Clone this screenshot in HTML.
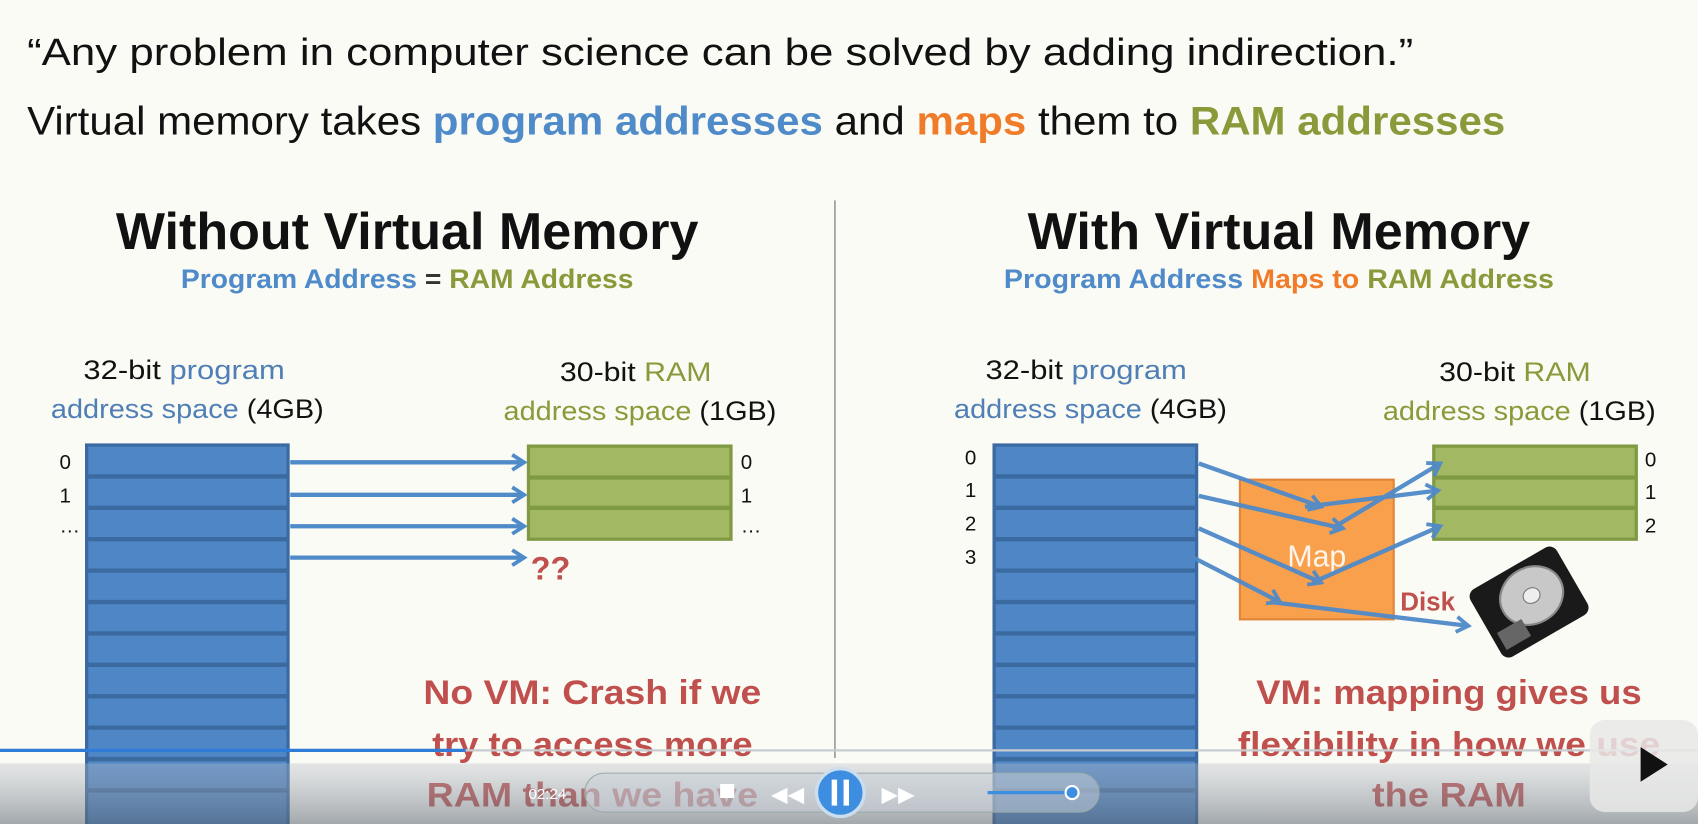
<!DOCTYPE html>
<html><head><meta charset="utf-8"><style>
html,body{margin:0;padding:0;background:#fbfbf6;}
svg{display:block}
text{font-family:"Liberation Sans",sans-serif}
</style></head><body>
<svg width="1698" height="824" viewBox="0 0 1568 761" preserveAspectRatio="none" xmlns="http://www.w3.org/2000/svg">
<defs>
<marker id="ah" viewBox="-4 -4 18 20" refX="10" refY="6" markerWidth="18" markerHeight="20" orient="auto" markerUnits="userSpaceOnUse" style="overflow:visible">
<path d="M-1,-1 L10,6 L-1,13" fill="none" stroke="#4f8ac9" stroke-width="3.5"/>
</marker>
<linearGradient id="cb" x1="0" y1="0" x2="0" y2="1"><stop offset="0" stop-color="#b8bec6" stop-opacity="0.35"/><stop offset="1" stop-color="#5a6470" stop-opacity="0.55"/></linearGradient>
</defs>
<rect width="1568" height="761" fill="#fbfbf6"/>
<text x="25" y="60" font-size="35" fill="#111" textLength="1280" lengthAdjust="spacingAndGlyphs">“Any problem in computer science can be solved by adding indirection.”</text>
<text x="25" y="124" font-size="37" fill="#111" textLength="1365" lengthAdjust="spacingAndGlyphs">Virtual memory takes <tspan fill="#4f8ac9" font-weight="bold">program addresses</tspan> and <tspan fill="#f07b28" font-weight="bold">maps</tspan> them to <tspan fill="#8a9a3a" font-weight="bold">RAM addresses</tspan></text>
<line x1="771" y1="185" x2="771" y2="700" stroke="#999" stroke-width="1.5"/>
<text x="376" y="230" font-size="48" font-weight="bold" text-anchor="middle" fill="#111" textLength="538" lengthAdjust="spacingAndGlyphs">Without Virtual Memory</text>
<text x="1181" y="230" font-size="48" font-weight="bold" text-anchor="middle" fill="#111" textLength="464" lengthAdjust="spacingAndGlyphs">With Virtual Memory</text>
<text x="376" y="266" font-size="25" font-weight="bold" text-anchor="middle" textLength="418" lengthAdjust="spacingAndGlyphs"><tspan fill="#4f8ac9">Program Address</tspan><tspan fill="#333"> = </tspan><tspan fill="#8a9a3a">RAM Address</tspan></text>
<text x="1181" y="266" font-size="25" font-weight="bold" text-anchor="middle" textLength="508" lengthAdjust="spacingAndGlyphs"><tspan fill="#4f8ac9">Program Address </tspan><tspan fill="#f07b28">Maps to </tspan><tspan fill="#8a9a3a">RAM Address</tspan></text>
<g font-size="25">
<text x="170" y="350" text-anchor="middle" textLength="186" lengthAdjust="spacingAndGlyphs" fill="#111">32-bit <tspan fill="#4f7fb5">program</tspan></text>
<text x="173" y="386" text-anchor="middle" textLength="252" lengthAdjust="spacingAndGlyphs" fill="#111"><tspan fill="#4f7fb5">address space</tspan> (4GB)</text>
<text x="587" y="352" text-anchor="middle" textLength="140" lengthAdjust="spacingAndGlyphs" fill="#111">30-bit <tspan fill="#8a9a3a">RAM</tspan></text>
<text x="591" y="388" text-anchor="middle" textLength="252" lengthAdjust="spacingAndGlyphs" fill="#111"><tspan fill="#8a9a3a">address space</tspan> (1GB)</text>
<text x="1003" y="350" text-anchor="middle" textLength="186" lengthAdjust="spacingAndGlyphs" fill="#111">32-bit <tspan fill="#4f7fb5">program</tspan></text>
<text x="1007" y="386" text-anchor="middle" textLength="252" lengthAdjust="spacingAndGlyphs" fill="#111"><tspan fill="#4f7fb5">address space</tspan> (4GB)</text>
<text x="1399" y="352" text-anchor="middle" textLength="140" lengthAdjust="spacingAndGlyphs" fill="#111">30-bit <tspan fill="#8a9a3a">RAM</tspan></text>
<text x="1403" y="388" text-anchor="middle" textLength="252" lengthAdjust="spacingAndGlyphs" fill="#111"><tspan fill="#8a9a3a">address space</tspan> (1GB)</text>
</g>
<g fill="#4f86c6" stroke="#3a6aa0" stroke-width="3">
<rect x="80" y="411" width="186" height="360"/>
<rect x="918" y="411" width="187" height="360"/>
</g>
<g stroke="#3a6aa0" stroke-width="4">
<path d="M80 440H266M80 469H266M80 498H266M80 527H266M80 556H266M80 585H266M80 614H266M80 643H266M80 672H266M80 701H266M80 730H266"/>
<path d="M918 440H1105M918 469H1105M918 498H1105M918 527H1105M918 556H1105M918 585H1105M918 614H1105M918 643H1105M918 672H1105M918 701H1105M918 730H1105"/>
</g>
<g fill="#a3b862" stroke="#7f9a43" stroke-width="3">
<rect x="488" y="412" width="187" height="86"/>
<rect x="1324" y="412" width="187" height="86"/>
</g>
<path d="M488 441H675M488 469H675M1324 441H1511M1324 469H1511" stroke="#7f9a43" stroke-width="4"/>
<g font-family="Liberation Mono" font-size="19" fill="#111">
<text x="55" y="433">0</text><text x="55" y="464">1</text><text x="55" y="492">…</text>
<text x="684" y="433">0</text><text x="684" y="464">1</text><text x="684" y="492">…</text>
<text x="891" y="429">0</text><text x="891" y="459">1</text><text x="891" y="490">2</text><text x="891" y="521">3</text>
<text x="1519" y="431">0</text><text x="1519" y="461">1</text><text x="1519" y="492">2</text>
</g>
<g stroke="#4f8ac9" stroke-width="4" fill="none" marker-end="url(#ah)">
<line x1="268" y1="427" x2="484" y2="427"/>
<line x1="268" y1="457" x2="484" y2="457"/>
<line x1="268" y1="486" x2="484" y2="486"/>
<line x1="268" y1="515" x2="484" y2="515"/>
</g>
<text x="490" y="535" font-size="30" font-weight="bold" fill="#c0504d">??</text>
<rect x="1145" y="443" width="142" height="129" fill="#f9a04c" stroke="#e0853a" stroke-width="2"/>
<text x="1216" y="523" font-size="28" fill="#fff" text-anchor="middle" opacity="0.9">Map</text>
<g stroke="#4f8ac9" stroke-width="4" fill="none" marker-end="url(#ah)" opacity="0.95">
<line x1="1107" y1="428" x2="1220" y2="468"/>
<line x1="1107" y1="458" x2="1240" y2="488"/>
<line x1="1107" y1="488" x2="1220" y2="538"/>
<line x1="1102" y1="515" x2="1182" y2="556"/>
<line x1="1205" y1="468" x2="1328" y2="453"/>
<line x1="1230" y1="488" x2="1330" y2="428"/>
<line x1="1212" y1="538" x2="1330" y2="486"/>
<line x1="1173" y1="556" x2="1356" y2="578"/>
</g>
<text x="1293" y="564" font-size="24" font-weight="bold" fill="#c0504d">Disk</text>
<g transform="translate(1412,556) rotate(-30)">
<rect x="-46" y="-36" width="92" height="72" rx="8" fill="#1a1a1a"/>
<ellipse cx="5" cy="-4" rx="30" ry="26" fill="#c8c8c8" stroke="#888" stroke-width="2"/>
<ellipse cx="5" cy="-4" rx="8" ry="7" fill="#eee" stroke="#777"/>
<rect x="-40" y="10" width="26" height="18" fill="#666"/>
</g>
<g font-size="32" font-weight="bold" fill="#c0504d" text-anchor="middle">
<text x="547" y="650" textLength="312" lengthAdjust="spacingAndGlyphs">No VM: Crash if we</text>
<text x="547" y="698" textLength="296" lengthAdjust="spacingAndGlyphs">try to access more</text>
<text x="547" y="745" textLength="306" lengthAdjust="spacingAndGlyphs">RAM than we have</text>
<text x="1338" y="650" textLength="356" lengthAdjust="spacingAndGlyphs">VM: mapping gives us</text>
<text x="1338" y="698" textLength="390" lengthAdjust="spacingAndGlyphs">flexibility in how we use</text>
<text x="1338" y="745" textLength="142" lengthAdjust="spacingAndGlyphs">the RAM</text>
</g>
<line x1="0" y1="693" x2="1568" y2="693" stroke="#c8ccd0" stroke-width="2"/>
<line x1="0" y1="693" x2="430" y2="693" stroke="#2f7bd8" stroke-width="3"/>
<rect x="0" y="705" width="1568" height="56" fill="url(#cb)"/>
<rect x="540" y="714" width="475" height="36" rx="18" fill="#c8d0d8" fill-opacity="0.5" stroke="#9aa" stroke-width="1"/>
<text x="488" y="738" font-size="14" fill="#fff">02:24</text>
<rect x="665" y="724" width="13" height="13" fill="#fff"/>
<text x="712" y="740" font-size="20" fill="#fff">◀◀</text>
<circle cx="776" cy="732" r="22" fill="#3d8ee0" stroke="#cde" stroke-width="3"/>
<rect x="768" y="720" width="5" height="24" fill="#fff"/><rect x="779" y="720" width="5" height="24" fill="#fff"/>
<text x="814" y="740" font-size="20" fill="#fff">▶▶</text>
<line x1="912" y1="732" x2="990" y2="732" stroke="#3d8ee0" stroke-width="3"/>
<circle cx="990" cy="732" r="6" fill="#3d8ee0" stroke="#fff" stroke-width="2"/>
<rect x="1468" y="665" width="100" height="85" rx="14" fill="#e8e8e8" opacity="0.85"/>
<path d="M1515 690 L1540 706 L1515 722 Z" fill="#111"/>
</svg>
</body></html>
